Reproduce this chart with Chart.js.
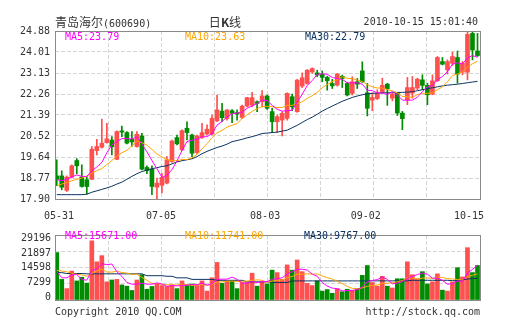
<!DOCTYPE html>
<html><head><meta charset="utf-8">
<script src="https://cdn.jsdelivr.net/npm/chart.js@4.4.0/dist/chart.umd.min.js"></script>
<style>
html,body{margin:0;padding:0;background:#fff;}
#wrap{position:relative;width:505px;height:330px;overflow:hidden;background:#fff;}
canvas{position:absolute;left:0;}
.t{position:absolute;white-space:nowrap;font-family:"DejaVu Sans Mono",monospace;font-size:10px;line-height:12px;color:#333;z-index:2;}
.cjk{font-family:"Noto Sans CJK SC",sans-serif;font-size:12px;}
</style></head><body>
<div id="wrap">
<canvas id="c1" width="505" height="225" style="top:0"></canvas>
<canvas id="c2" width="505" height="105" style="top:225px"></canvas>
<div class="t" style="left:55px;top:16px"><span class="cjk">青岛海尔</span>(600690)</div>
<div class="t" style="left:195px;top:16px;width:60px;text-align:center"><span class="cjk">日<b>K</b>线</span></div>
<div class="t" style="right:27px;top:16px">2010-10-15 15:01:40</div>
<div class="t" id="lg1" style="left:65px;top:31px;color:#ff00ff"></div>
<div class="t" id="lg2" style="left:185px;top:31px;color:#ffa500"></div>
<div class="t" id="lg3" style="left:305px;top:31px;color:#0b3361"></div>
<div class="t" id="lv1" style="left:65px;top:230px;color:#ff00ff"></div>
<div class="t" id="lv2" style="left:185px;top:230px;color:#ffa500"></div>
<div class="t" id="lv3" style="left:304px;top:230px;color:#0b3361"></div>
<div class="t" style="left:55px;top:306px">Copyright 2010 QQ.COM</div>
<div class="t" style="right:25px;top:306px">http://stock.qq.com</div>
</div>
<script>
// ---------- data ----------
const opens = [18.86,18.86,18.26,18.81,19.50,18.81,18.70,18.72,19.91,20.05,
20.24,20.35,19.55,20.73,20.66,20.38,20.08,20.52,19.21,19.14,
18.39,18.47,18.56,19.46,20.45,19.94,20.84,20.56,19.83,20.46,
20.60,20.60,21.15,21.55,21.25,21.57,21.49,21.29,21.76,21.80,
21.94,21.94,22.18,21.53,21.11,21.18,21.25,22.15,21.53,22.59,
22.70,23.18,23.14,23.09,22.95,22.70,22.63,23.00,22.70,22.29,
22.77,23.22,22.31,22.01,22.07,22.34,22.67,22.09,22.30,21.47,
22.02,22.30,22.51,22.85,22.62,22.26,22.81,23.61,23.27,23.54,
23.78,23.17,23.17,24.78,24.05];
const highs = [19.53,19.07,18.86,19.32,19.58,19.32,18.84,20.08,20.38,21.22,
21.04,20.49,20.73,20.93,20.70,20.70,20.70,20.63,19.28,19.28,
18.77,18.97,19.66,20.35,20.56,20.77,21.11,20.60,20.56,21.04,
20.98,21.39,22.22,21.87,21.62,21.62,21.60,21.80,22.12,22.33,
21.98,22.40,22.22,21.67,21.39,21.53,22.31,22.26,22.87,23.14,
23.28,23.35,23.25,23.22,23.00,22.87,23.12,23.05,22.74,22.98,
22.91,23.60,22.70,22.31,22.44,22.92,22.71,22.30,22.33,21.54,
22.95,22.99,22.92,23.06,22.71,23.06,23.82,23.78,23.68,24.00,
24.05,23.61,24.88,24.88,24.78];
const lows = [18.45,18.28,18.21,18.77,18.95,18.39,18.10,18.70,19.73,20.01,
20.22,19.73,19.53,20.49,20.19,20.08,20.05,19.11,18.95,18.08,
17.90,18.15,18.53,19.42,20.15,19.91,20.35,19.66,19.77,20.42,
20.56,20.56,21.11,21.11,21.18,21.07,21.18,21.25,21.73,21.73,
21.53,21.73,21.62,20.66,20.66,20.52,21.18,21.57,21.50,22.53,
22.67,23.12,22.98,22.77,22.42,22.49,22.59,22.53,22.18,22.22,
22.49,22.74,21.35,21.57,22.03,22.30,21.79,21.98,21.37,20.78,
21.82,22.09,22.44,22.44,21.82,22.23,22.78,23.47,23.09,23.45,
22.71,23.06,22.85,23.68,23.82];
const closes = [18.72,18.39,18.81,19.28,19.28,18.42,18.42,19.97,20.08,20.22,
20.40,20.07,20.70,20.68,20.22,20.27,20.59,19.14,19.08,18.42,
18.56,18.80,19.53,20.31,20.19,20.74,20.66,19.80,20.52,20.66,
20.80,21.25,21.60,21.28,21.60,21.46,21.43,21.76,22.11,22.11,
21.87,22.18,21.67,21.11,21.32,21.46,22.29,21.73,22.84,22.94,
23.25,23.32,23.05,22.95,22.81,22.60,23.09,22.91,22.22,22.77,
22.67,22.77,21.67,22.12,22.30,22.62,22.48,22.26,21.47,21.24,
22.53,22.53,22.88,22.62,22.23,22.81,23.78,23.50,23.61,23.82,
23.09,23.54,24.74,24.09,23.86];
const ma5 = [18.70,18.66,18.72,18.81,18.90,18.84,18.84,19.07,19.23,19.42,
19.82,20.15,20.29,20.41,20.41,20.39,20.49,20.18,19.86,19.50,
19.16,18.80,18.88,19.12,19.48,19.91,20.29,20.34,20.38,20.48,
20.49,20.61,20.97,21.12,21.31,21.44,21.47,21.51,21.67,21.77,
21.86,22.01,21.99,21.79,21.63,21.55,21.57,21.58,21.93,22.25,
22.61,22.82,23.08,23.10,23.08,22.95,22.90,22.87,22.73,22.72,
22.73,22.67,22.42,22.40,22.31,22.30,22.24,22.36,22.23,22.01,
22.00,22.01,22.13,22.36,22.56,22.61,22.86,22.99,23.19,23.50,
23.56,23.51,23.76,23.86,23.79];
const ma10 = [18.45,18.52,18.58,18.66,18.72,18.77,18.85,18.97,19.08,19.16,
19.33,19.50,19.68,19.82,19.92,20.10,20.32,20.24,20.14,19.96,
19.77,19.65,19.53,19.49,19.49,19.54,19.54,19.61,19.75,19.98,
20.20,20.45,20.65,20.75,20.89,20.96,21.04,21.24,21.40,21.54,
21.65,21.74,21.75,21.73,21.70,21.70,21.79,21.79,21.86,21.94,
22.08,22.19,22.33,22.52,22.66,22.78,22.86,22.98,22.91,22.90,
22.84,22.78,22.65,22.56,22.51,22.51,22.45,22.39,22.31,22.16,
22.15,22.12,22.24,22.29,22.29,22.31,22.44,22.56,22.77,23.03,
23.09,23.19,23.37,23.52,23.63];
const ma30 = [18.08,18.08,18.08,18.08,18.08,18.08,18.10,18.18,18.24,18.30,
18.36,18.43,18.52,18.60,18.72,18.84,18.95,19.04,19.10,19.16,
19.20,19.25,19.28,19.36,19.44,19.49,19.53,19.57,19.66,19.78,
19.88,19.96,20.04,20.10,20.18,20.28,20.33,20.38,20.44,20.49,
20.55,20.62,20.64,20.66,20.68,20.72,20.76,20.86,20.96,21.08,
21.20,21.30,21.42,21.55,21.66,21.76,21.86,21.96,22.04,22.12,
22.18,22.23,22.27,22.29,22.30,22.31,22.31,22.32,22.33,22.33,
22.34,22.36,22.40,22.44,22.48,22.52,22.56,22.60,22.63,22.65,
22.67,22.70,22.73,22.76,22.79];
const volumes = [21306,9262,5108,13000,8570,10231,7600,26567,17153,19922,
8154,8985,9262,6770,6216,4278,8985,11338,4832,6078,
7185,6493,6078,6770,5108,8570,6770,7185,6770,8570,
4001,9954,16876,7462,8570,8570,5108,7877,7877,12030,
6216,8000,7185,13415,12307,9262,15768,13415,17983,12723,
7462,6493,8570,4001,4693,3032,5108,3724,4832,4416,
5108,11061,15491,7877,6216,10646,6216,5385,9539,9539,
17153,11338,9539,12723,7185,8154,11753,4416,4001,8154,
14500,10369,23500,12307,15500];
const volMa5 = [12700,10000,9950,11300,11450,9230,8900,13190,14020,16300,
15880,16160,12700,10620,7880,7100,7100,7520,7130,7100,
7680,7190,6130,6520,6330,6600,6660,6880,6880,7570,
6660,7300,9230,9370,9370,10290,9320,7520,7600,8290,
7820,8400,8260,9370,9430,10030,11590,12830,13750,13830,
13470,11620,10650,7850,6240,5360,5080,4110,4280,4220,
4640,5830,8180,8790,9150,10260,9290,7270,7600,8270,
9570,10590,11420,12060,11590,9790,9870,8850,7100,7300,
8570,8290,12100,13770,15671];
const volMa10 = [13400,13000,12700,12000,11500,11300,10650,12000,13000,13870,
12560,12530,12940,12320,12090,11490,11630,10110,8870,7490,
7390,7140,6830,6830,6720,7140,6920,6510,6700,6950,
6630,6980,8060,8130,8470,8470,8310,8380,8490,8830,
9050,8860,7890,8490,8860,8930,9990,10550,11560,11630,
11750,11600,11740,10800,10040,9410,8350,7380,6060,5230,
5000,5460,6150,6530,6690,7450,7560,7730,8200,8710,
9910,9940,9350,9830,9930,9680,10230,10130,9580,9440,
9180,9080,10470,11100,11741];
const volMa30 = [12300,12300,11900,11900,11900,11900,11750,11750,11750,11750,
11750,11750,11750,11750,11750,11750,11750,11750,10920,10920,
10920,10920,10650,10650,9950,9950,9950,9260,9260,9260,
9260,9260,8850,8850,8850,8850,8850,8850,8150,8150,
8150,8150,8150,7880,7880,7880,7880,8570,8570,8570,
8570,8570,8570,8570,8570,8570,8570,8570,8570,8570,
8570,8570,8570,8600,8600,8600,8600,8600,8600,8600,
8600,8850,8850,8850,8850,8850,8850,8850,8850,8700,
8700,9100,9400,9600,9767];
const priceTicks = [17.90,18.77,19.64,20.52,21.39,22.26,23.13,24.01,24.88];
const volumeTicks = [0,7299,14598,21897,29196];
const dateLabels = ['05-31','07-05','08-03','09-02','10-15'];

// ---------- layout / style ----------
const X_MIN = -0.35, X_MAX = 84.5;
const GRID_COUNT = 8;
const gridVals = Array.from({length: GRID_COUNT + 1}, (_, k) => X_MIN + k * (X_MAX - X_MIN) / GRID_COUNT);
const dateLabelAt = [0.45, 20.8, 41.6, 61.7, 82.3];
const RED = '#ff4f4f', GREEN = '#008c00';
const C_MA5 = '#ff00ff', C_MA10 = '#ffa500', C_MA30 = '#0b3361';
const GRID = '#d4d4d4', DASH = [4, 2];
const FONT = {family: 'DejaVu Sans Mono', size: 10};
const idx = closes.map((_, i) => i);
const candleColors = idx.map(i => closes[i] >= opens[i] ? RED : GREEN);

const frame = {
  id: 'frame',
  afterDraw(chart) {
    const {ctx, chartArea: a} = chart;
    ctx.save();
    ctx.strokeStyle = '#8a8a8a';
    ctx.lineWidth = 1;
    ctx.strokeRect(a.left + 0.5, a.top + 0.5, a.right - a.left, a.bottom - a.top);
    ctx.restore();
  }
};
const lineDs = (label, arr, color, yID) => ({
  type: 'line', label, data: idx.map(i => ({x: i, y: arr[i]})),
  borderColor: color, borderWidth: 1, pointRadius: 0, tension: 0, fill: false,
  order: 0, yAxisID: yID, xAxisID: 'x'
});
const gridX = (h) => ({
  type: 'linear', min: X_MIN, max: X_MAX, offset: false, position: 'bottom', bounds: 'data',
  grid: {color: GRID, drawTicks: false, offset: false},
  border: {display: false, dash: DASH},
  ticks: {display: false},
  afterBuildTicks: s => { s.ticks = gridVals.map(v => ({value: v})); },
  afterFit: s => { s.height = h; }
});

document.getElementById('lg1').textContent = 'MA5:' + ma5[ma5.length - 1].toFixed(2);
document.getElementById('lg2').textContent = 'MA10:' + ma10[ma10.length - 1].toFixed(2);
document.getElementById('lg3').textContent = 'MA30:' + ma30[ma30.length - 1].toFixed(2);
document.getElementById('lv1').textContent = 'MA5:' + volMa5[volMa5.length - 1].toFixed(2);
document.getElementById('lv2').textContent = 'MA10:' + volMa10[volMa10.length - 1].toFixed(2);
document.getElementById('lv3').textContent = 'MA30:' + volMa30[volMa30.length - 1].toFixed(2);

// ---------- price chart ----------
new Chart(document.getElementById('c1'), {
  type: 'bar',
  data: {datasets: [
    lineDs('MA5', ma5, C_MA5, 'y'),
    lineDs('MA10', ma10, C_MA10, 'y'),
    lineDs('MA30', ma30, C_MA30, 'y'),
    {type: 'bar', label: 'body', data: idx.map(i => ({x: i, y: [opens[i], closes[i]]})),
     backgroundColor: candleColors, borderWidth: 0, barThickness: 4, minBarLength: 1,
     grouped: false, order: 1, xAxisID: 'x', yAxisID: 'y'},
    {type: 'bar', label: 'wick', data: idx.map(i => ({x: i, y: [lows[i], highs[i]]})),
     backgroundColor: candleColors, borderWidth: 0, barThickness: 1,
     grouped: false, order: 2, xAxisID: 'x', yAxisID: 'y'}
  ]},
  options: {
    responsive: false, animation: false, events: [],
    layout: {padding: {top: 31, right: 25, bottom: 0, left: 0}},
    plugins: {legend: {display: false}, tooltip: {enabled: false}},
    scales: {
      x: gridX(0),
      xl: {
        type: 'linear', min: X_MIN, max: X_MAX, offset: false, position: 'bottom', bounds: 'data',
        grid: {display: false, drawTicks: false}, border: {display: false},
        ticks: {padding: 11.5, color: '#333', font: FONT, autoSkip: false, maxRotation: 0,
                callback: (v, i) => dateLabels[i]},
        afterBuildTicks: s => { s.ticks = dateLabelAt.map(v => ({value: v})); },
        afterFit: s => { s.height = 26; }
      },
      y: {
        type: 'linear', position: 'left', min: priceTicks[0], max: priceTicks[priceTicks.length - 1],
        beginAtZero: false, bounds: 'data',
        grid: {color: GRID, drawTicks: false}, border: {display: false, dash: DASH},
        ticks: {padding: 5, color: '#333', font: FONT, autoSkip: false,
                callback: (v, i) => priceTicks[i].toFixed(2)},
        afterBuildTicks: s => { s.ticks = priceTicks.map(v => ({value: v})); },
        afterFit: s => { s.width = 55; }
      }
    }
  },
  plugins: [frame]
});

// ---------- volume chart ----------
const VL_MIN = -0.169, VL_MAX = 4.206;
new Chart(document.getElementById('c2'), {
  type: 'bar',
  data: {datasets: [
    lineDs('MA5', volMa5, C_MA5, 'y'),
    lineDs('MA10', volMa10, C_MA10, 'y'),
    lineDs('MA30', volMa30, C_MA30, 'y'),
    {type: 'bar', label: 'vol', data: idx.map(i => ({x: i, y: volumes[i]})),
     backgroundColor: candleColors, borderWidth: 0, barThickness: 4,
     grouped: false, order: 1, xAxisID: 'x', yAxisID: 'y'}
  ]},
  options: {
    responsive: false, animation: false, events: [],
    layout: {padding: {top: 5, right: 25, bottom: 0, left: 0}},
    plugins: {legend: {display: false}, tooltip: {enabled: false}},
    scales: {
      x: gridX(30),
      y: {
        type: 'linear', position: 'left', min: volumeTicks[0], max: volumeTicks[volumeTicks.length - 1],
        bounds: 'data',
        grid: {color: GRID, drawTicks: false}, border: {display: false, dash: DASH},
        ticks: {display: false},
        afterBuildTicks: s => { s.ticks = volumeTicks.map(v => ({value: v})); },
        afterFit: s => { s.width = 0; }
      },
      yl: {
        type: 'linear', position: 'left', min: VL_MIN, max: VL_MAX, bounds: 'data',
        grid: {display: false, drawTicks: false}, border: {display: false},
        ticks: {padding: 4, color: '#333', font: FONT, autoSkip: false,
                callback: (v, i) => String(volumeTicks[i])},
        afterBuildTicks: s => { s.ticks = volumeTicks.map((_, k) => ({value: k})); },
        afterFit: s => { s.width = 55; }
      }
    }
  },
  plugins: [frame]
});
</script>
</body></html>
